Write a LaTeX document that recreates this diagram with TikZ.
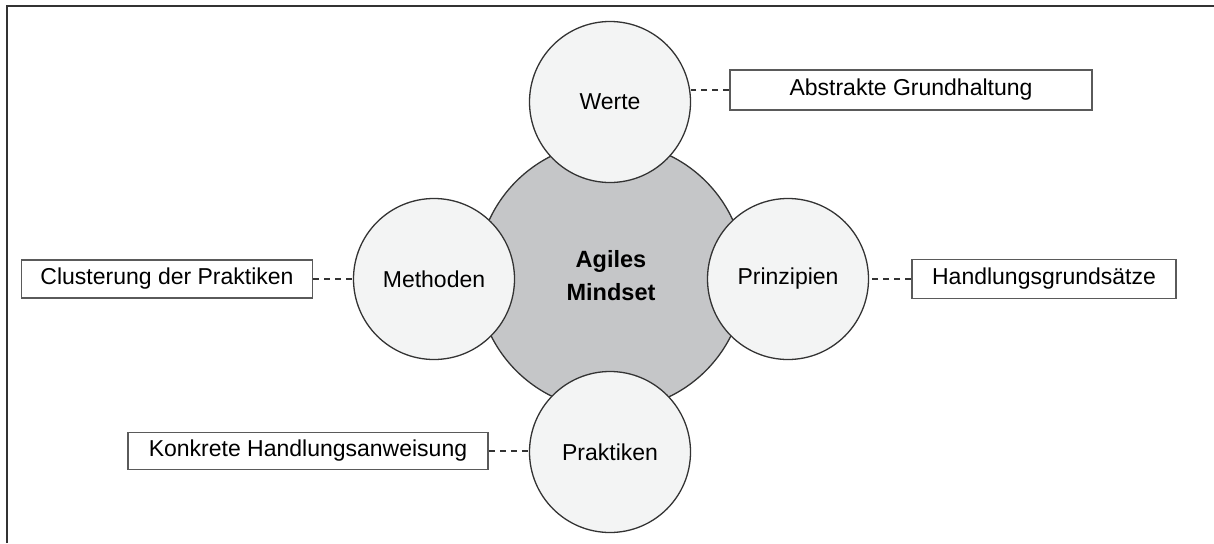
\documentclass[tikz,border=0pt]{standalone}
\usepackage{fontspec}
\setmainfont{Liberation Sans}
\definecolor{hubgray}{HTML}{C5C6C8}
\definecolor{ringgray}{HTML}{F3F4F4}
\definecolor{edgegray}{HTML}{333333}
\definecolor{boxgray}{HTML}{5A5A5A}
\tikzset{
  hub/.style={circle, draw=edgegray, line width=1.3pt, fill=hubgray, minimum size=268pt, inner sep=0pt, align=center, font=\fontsize{23.5}{33}\selectfont\bfseries},
  pillar/.style={circle, draw=edgegray, line width=1.3pt, fill=ringgray, minimum size=161pt, inner sep=0pt, font=\fontsize{23}{27}\selectfont},
  note/.style={rectangle, draw=boxgray, line width=1.6pt, fill=white, inner sep=0pt, font=\fontsize{23}{27}\selectfont},
  link/.style={draw=edgegray, line width=1.1pt, dash pattern=on 6pt off 5pt}
}
\begin{document}
\begin{tikzpicture}[x=1pt, y=-1pt]
      \useasboundingbox (0,0) rectangle (1214,543);
      \draw[edgegray, line width=1.5pt] (7,543) -- (7,6) -- (1214,6);

      \node[hub] (mindset) at (611,276) {Agiles\\Mindset};

      \foreach \n/\x/\y/\t in {werte/610/102/Werte, methoden/434/279/Methoden, prinzipien/788/279/Prinzipien, praktiken/610/452/Praktiken} {
        \node[pillar] (\n) at (\x,\y) {\t};
      }

      \node[note, minimum width=362pt, minimum height=40pt] (abstrakt) at (911,90) {Abstrakte Grundhaltung};
      \node[note, minimum width=264pt, minimum height=39pt] (grundsatz) at (1044,279) {Handlungsgrundsätze};
      \node[note, minimum width=291pt, minimum height=38pt] (cluster) at (167,279) {Clusterung der Praktiken};
      \node[note, minimum width=360pt, minimum height=37pt] (konkret) at (308,451) {Konkrete Handlungsanweisung};

      \draw[link] (abstrakt.west) -- (werte.east |- abstrakt.west);
      \draw[link] (grundsatz.west) -- (prinzipien.east |- grundsatz.west);
      \draw[link] (cluster.east) -- (methoden.west |- cluster.east);
      \draw[link] (konkret.east) -- (praktiken.west |- konkret.east);
    \end{tikzpicture}
\end{document}
